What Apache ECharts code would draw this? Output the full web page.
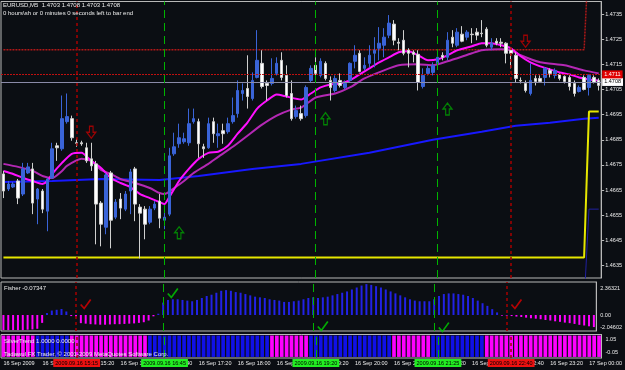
<!DOCTYPE html>
<html><head><meta charset="utf-8">
<script src="https://cdn.jsdelivr.net/npm/echarts@6/dist/echarts.min.js"></script>
<style>html,body{margin:0;padding:0;background:#0b0e13;}#c{width:625px;height:370px;}</style>
</head><body><div id="c"></div>
<script>
// ---------- categories (M5 bars from 16 Sep 2009 14:00) ----------
const categories = [];
for (let i = 0; i < 123; i++) {
  const m = 14 * 60 + 5 * i;
  const hh = String(Math.floor(m / 60) % 24).padStart(2, '0');
  const mm = String(m % 60).padStart(2, '0');
  categories.push(hh + ':' + mm);
}
const xTickLabels = ['16 Sep 2009','16 Sep 14:40','16 Sep 15:20','16 Sep 16:00','16 Sep 16:40','16 Sep 17:20','16 Sep 18:00','16 Sep 18:40','16 Sep 19:20','16 Sep 20:00','16 Sep 20:40','16 Sep 21:20','16 Sep 22:00','16 Sep 22:40','16 Sep 23:20','17 Sep 00:00'];
const priceTicks = [1.4635,1.4645,1.4655,1.4665,1.4675,1.4685,1.4695,1.4705,1.4715,1.4725,1.4735];
const fisherTickLabels = ['2.36321','0.00','-2.04602'];
const silverTickLabels = ['1.05','-0.05'];

// ---------- OHLC ----------
const opens = [1.46714,1.46654,1.46662,1.46686,1.46634,1.46718,1.46734,1.46614,1.46646,1.46566,1.46698,1.46826,1.46814,1.46922,1.46934,1.46838,1.46838,1.46818,1.46774,1.46754,1.46598,1.46502,1.46718,1.46542,1.46614,1.46574,1.46646,1.46734,1.46582,1.46574,1.46522,1.46578,1.46606,1.46530,1.46554,1.46794,1.46834,1.46842,1.46838,1.46922,1.46922,1.46822,1.46818,1.46922,1.46866,1.46886,1.46882,1.46922,1.46954,1.47034,1.47054,1.47014,1.47098,1.47154,1.47074,1.47074,1.47114,1.47166,1.47106,1.47034,1.46942,1.46954,1.46946,1.47086,1.47146,1.47106,1.47154,1.47086,1.47046,1.47086,1.47058,1.47086,1.47162,1.47194,1.47134,1.47154,1.47194,1.47214,1.47226,1.47266,1.47310,1.47238,1.47246,1.47206,1.47198,1.47190,1.47062,1.47114,1.47118,1.47154,1.47186,1.47178,1.47258,1.47226,1.47270,1.47258,1.47270,1.47278,1.47274,1.47290,1.47218,1.47242,1.47238,1.47234,1.47206,1.47186,1.47086,1.47074,1.47034,1.47094,1.47094,1.47098,1.47126,1.47106,1.47110,1.47102,1.47098,1.47074,1.47042,1.47098,1.47058,1.47098,1.47086];
const closes = [1.46646,1.46674,1.46674,1.46618,1.46734,1.46742,1.46598,1.46654,1.46574,1.46694,1.46814,1.46818,1.46934,1.46942,1.46858,1.46836,1.46834,1.46766,1.46746,1.46594,1.46514,1.46710,1.46530,1.46602,1.46578,1.46634,1.46722,1.46594,1.46558,1.46514,1.46574,1.46594,1.46538,1.46542,1.46786,1.46822,1.46858,1.46854,1.46914,1.46934,1.46834,1.46814,1.46914,1.46874,1.46874,1.46874,1.46914,1.46946,1.47046,1.47046,1.47022,1.47086,1.47166,1.47062,1.47066,1.47094,1.47154,1.47098,1.47026,1.46934,1.46966,1.46934,1.47058,1.47134,1.47114,1.47162,1.47094,1.47058,1.47094,1.47066,1.47074,1.47154,1.47186,1.47122,1.47146,1.47186,1.47206,1.47234,1.47258,1.47314,1.47246,1.47234,1.47194,1.47194,1.47190,1.47078,1.47106,1.47134,1.47146,1.47178,1.47178,1.47246,1.47234,1.47278,1.47242,1.47278,1.47268,1.47266,1.47272,1.47226,1.47234,1.47234,1.47234,1.47194,1.47194,1.47094,1.47084,1.47046,1.47086,1.47082,1.47082,1.47134,1.47114,1.47126,1.47094,1.47082,1.47062,1.47034,1.47058,1.47050,1.47106,1.47078,1.47066];
const lows = [1.46618,1.46646,1.46658,1.46594,1.46626,1.46714,1.46554,1.46514,1.46558,1.46486,1.46694,1.46766,1.46806,1.46914,1.46846,1.46822,1.46826,1.46758,1.46726,1.46434,1.46426,1.46474,1.46418,1.46534,1.46534,1.46566,1.46554,1.46526,1.46378,1.46454,1.46514,1.46570,1.46498,1.46494,1.46546,1.46786,1.46818,1.46834,1.46826,1.46914,1.46778,1.46778,1.46814,1.46838,1.46818,1.46834,1.46874,1.46914,1.46938,1.47006,1.46974,1.47006,1.47094,1.47054,1.47006,1.47066,1.47106,1.47086,1.47018,1.46926,1.46934,1.46926,1.46938,1.47078,1.47094,1.47098,1.47086,1.47006,1.47038,1.47058,1.47050,1.47078,1.47134,1.47118,1.47126,1.47138,1.47138,1.47166,1.47178,1.47254,1.47226,1.47206,1.47186,1.47138,1.47158,1.47046,1.47054,1.47106,1.47106,1.47146,1.47166,1.47166,1.47218,1.47218,1.47238,1.47246,1.47234,1.47246,1.47258,1.47218,1.47206,1.47226,1.47218,1.47154,1.47134,1.47078,1.47074,1.47038,1.47026,1.47066,1.47078,1.47066,1.47098,1.47094,1.47086,1.47074,1.47046,1.47022,1.47038,1.47046,1.47026,1.47074,1.47046];
const highs = [1.46726,1.46686,1.46682,1.46694,1.46758,1.46758,1.46758,1.46658,1.46654,1.46698,1.46838,1.46838,1.47026,1.47034,1.46946,1.46854,1.46846,1.46838,1.46838,1.46766,1.46606,1.46718,1.46726,1.46614,1.46638,1.46646,1.46734,1.46742,1.46594,1.46586,1.46586,1.46606,1.46634,1.46574,1.46818,1.46878,1.46914,1.46878,1.46974,1.46974,1.46934,1.46834,1.46938,1.46938,1.46914,1.46914,1.46938,1.47018,1.47086,1.47074,1.47186,1.47118,1.47286,1.47206,1.47086,1.47174,1.47178,1.47198,1.47146,1.47086,1.46986,1.46986,1.47066,1.47146,1.47178,1.47174,1.47162,1.47102,1.47106,1.47114,1.47086,1.47158,1.47226,1.47206,1.47178,1.47226,1.47258,1.47298,1.47294,1.47346,1.47326,1.47254,1.47286,1.47214,1.47206,1.47206,1.47134,1.47146,1.47158,1.47186,1.47198,1.47278,1.47286,1.47294,1.47302,1.47286,1.47294,1.47294,1.47326,1.47298,1.47254,1.47254,1.47254,1.47238,1.47218,1.47198,1.47098,1.47086,1.47154,1.47106,1.47106,1.47138,1.47134,1.47134,1.47114,1.47106,1.47106,1.47086,1.47066,1.47106,1.47110,1.47106,1.47094];

// ---------- overlay lines (bar index, price) ----------
const fastMA = [[0,1.46726],[2,1.46714],[4,1.46698],[6,1.46686],[8,1.46674],[9,1.46686],[10,1.46714],[12,1.46758],[14,1.46794],[16,1.46798],[18,1.46766],[20,1.46738],[22,1.46698],[24,1.46678],[26,1.46662],[28,1.46634],[30,1.46618],[32,1.46602],[33,1.46594],[34,1.46622],[36,1.46686],[38,1.46734],[40,1.46774],[42,1.46798],[44,1.46802],[46,1.46826],[48,1.46874],[50,1.46918],[52,1.46974],[54,1.47006],[56,1.47030],[58,1.47022],[61,1.47010],[63,1.47034],[65,1.47058],[67,1.47070],[69,1.47074],[71,1.47086],[73,1.47110],[75,1.47134],[77,1.47158],[79,1.47178],[81,1.47198],[83,1.47202],[85,1.47186],[87,1.47166],[89,1.47170],[91,1.47186],[93,1.47206],[96,1.47222],[98,1.47234],[100,1.47234],[102,1.47226],[104,1.47214],[106,1.47182],[108,1.47158],[110,1.47142],[112,1.47130],[114,1.47118],[116,1.47110],[118,1.47098],[120,1.47090],[122,1.47086]];
const slowMA = [[0,1.46754],[3,1.46742],[6,1.46726],[8,1.46706],[10,1.46698],[12,1.46726],[13,1.46746],[16,1.46774],[18,1.46766],[20,1.46730],[22,1.46714],[24,1.46694],[27,1.46678],[30,1.46658],[32,1.46638],[33,1.46634],[35,1.46658],[37,1.46686],[39,1.46718],[42,1.46754],[44,1.46782],[47,1.46822],[50,1.46866],[53,1.46910],[56,1.46946],[59,1.46970],[61,1.46978],[64,1.47018],[68,1.47034],[71,1.47058],[74,1.47094],[78,1.47126],[81,1.47146],[85,1.47150],[88,1.47146],[91,1.47162],[96,1.47194],[98,1.47206],[102,1.47210],[104,1.47206],[106,1.47186],[110,1.47158],[115,1.47146],[119,1.47126],[122,1.47114]];
const longMA = [[0,1.46682],[10,1.46686],[20,1.46694],[32,1.46690],[40,1.46706],[51,1.46734],[61,1.46754],[75,1.46798],[88,1.46850],[98,1.46882],[105,1.46906],[112,1.46918],[119,1.46934],[122,1.46938]];
const lowerBand = [[0,1.46382],[119,1.46382],[120,1.46962],[122,1.46962]];
const upperBand = [[0,1.47208],[119,1.47208],[120,1.4760],[122,1.4760]];
const innerBand = [[119,1.4620],[120,1.46574],[122,1.46574]];
const askPrice = 1.4711;
const bidPrice = 1.4708;

// ---------- signals ----------
const signalBars = [15, 33, 64, 89, 104];
const signalKinds = ['sell','buy','buy','buy','sell'];
const signalTimes = ['2009.09.16 15:15','2009.09.16 16:45','2009.09.16 19:20','2009.09.16 21:25','2009.09.16 22:40'];
const upArrows = [[36,1.46480],[66,1.46934],[91,1.46972]];
const downArrows = [[18,1.46880],[107,1.47242]];
const greenChecks = [[35,1.68],[66,-0.84],[91,-0.92]];
const redChecks = [[17,0.84],[106,0.84]];

// ---------- Fisher histogram ----------
const fisher = [-1.15,-1.15,-1.15,-1.15,-1.15,-1.12,-1.1,-1.05,-0.6,
 0.15,0.34,0.4,0.46,0.27,
 -0.08,-0.12,
 -0.62,-0.66,-0.7,-0.72,-0.74,-0.74,-0.72,-0.7,-0.7,-0.68,-0.66,-0.64,-0.6,-0.55,-0.42,-0.1,
 0.1,
 0.95,1.15,1.2,1.2,1.15,1.1,1.05,1.15,1.3,1.45,
 1.55,1.7,1.85,1.9,1.85,1.75,1.7,1.6,1.5,1.4,
 1.35,1.3,1.2,1.15,1.1,1.0,1.0,1.05,1.1,1.2,
 1.3,1.35,1.3,1.35,1.4,1.5,1.6,1.7,1.8,1.95,
 2.1,2.25,2.36,2.3,2.2,2.1,1.95,1.8,1.65,1.5,
 1.35,1.2,1.1,1.05,1.05,1.05,1.2,1.45,1.6,1.65,
 1.65,1.6,1.55,1.45,1.3,1.1,0.9,0.7,0.45,0.2,
 -0.05,
 -0.05,-0.08,-0.12,-0.15,-0.2,-0.25,-0.28,-0.32,-0.38,-0.42,-0.48,-0.52,-0.58,-0.62,-0.68,-0.75,-0.8,-0.86,-0.92];

// ---------- SilverTrend (1 = up/blue, 0 = down/magenta) ----------
const silverTrend = [0,0,0,0,0,0,0, 1,1,1,1,1,1,1,
 0,0,0,0,0,0,0,0,0,0,0,0,0,0,0,0,
 1,1,1,1,1,1,1,1,1,1,1,1,1,1,1,1,1,1,1,1,1,1,1,1,1,
 0,0,0,0,0,0,0,0,
 1,1,1,1,1,1,1,1,1,1,1,1,1,1,1,1,1,
 0,0,0,0,0,0,0,0,
 1,1,1,1,1,1,1,1,1,1,1,
 0,0,0,0,0,0,0,0,0,0,0,0,0,0,0,0,0,0,0,0,0,0,0,0];

const BG = '#0b0e13', FRAME = '#b8b8b8', TXT = '#ececec';
const FONT = '"Liberation Sans", Arial, sans-serif';
const GREEN = '#00b400', DRED = '#a80000';
const UP_ARROW = 'path://M3,12 L7,12 L7,6 L10,6 L5,0 L0,6 L3,6 Z';
const DOWN_ARROW = 'path://M3,0 L7,0 L7,6 L10,6 L5,12 L0,6 L3,6 Z';
const CHECK = 'path://M0,5 L3.5,9 L10,0 L3.5,9 Z';

function vLines(withLabels) {
  return signalBars.map((b, k) => {
    const buy = signalKinds[k] === 'buy';
    return {
      xAxis: b,
      lineStyle: { color: buy ? GREEN : DRED, type: buy ? [8, 5] : [3, 3], width: buy ? 1 : 1.5 },
      label: withLabels ? {
        show: true, position: 'start', distance: 1,
        formatter: signalTimes[k], color: '#000', fontSize: 5.5, fontFamily: FONT,
        backgroundColor: buy ? '#22ee22' : '#ee1111', padding: [1, 2, 1, 2]
      } : { show: false }
    };
  });
}

const chart = echarts.init(document.getElementById('c'), null, { renderer: 'canvas' });
const hidden = { show: false };
chart.setOption({
  backgroundColor: BG,
  animation: false,
  grid: [
    { left: 1, top: 1.5, width: 601, height: 276.5, show: true, borderColor: FRAME, borderWidth: 1, backgroundColor: 'transparent' },
    { left: 1, top: 282, width: 601, height: 49, show: true, borderColor: FRAME, borderWidth: 1 },
    { left: 1, top: 334.5, width: 601, height: 23.5, show: true, borderColor: FRAME, borderWidth: 1 }
  ],
  xAxis: [0, 1, 2].map(g => ({
    type: 'category', gridIndex: g, data: categories, boundaryGap: true,
    axisLine: hidden, axisTick: hidden, splitLine: hidden,
    axisLabel: g === 2 ? {
      show: true, interval: 7, align: 'left', margin: 2, color: TXT, fontSize: 5.5, fontFamily: FONT,
      formatter: (v, i) => xTickLabels[Math.round(i / 8)]
    } : hidden
  })),
  yAxis: [
    { type: 'value', gridIndex: 0, position: 'right', min: 1.463, max: 1.474, scale: true,
      axisLine: { show: true, lineStyle: { color: FRAME } },
      axisTick: { show: true, length: 3, customValues: priceTicks, lineStyle: { color: FRAME } },
      axisLabel: { show: true, customValues: priceTicks, formatter: v => v.toFixed(4), color: TXT, fontSize: 5.5, fontFamily: FONT, margin: 4 },
      splitLine: hidden },
    { type: 'value', gridIndex: 1, position: 'right', min: -1.22, max: 2.52,
      axisLine: { show: true, lineStyle: { color: FRAME } },
      axisTick: hidden,
      axisLabel: { show: true, customValues: [2.05, 0, -0.95], formatter: v => v > 1 ? fisherTickLabels[0] : (v < 0 ? fisherTickLabels[2] : fisherTickLabels[1]), color: TXT, fontSize: 5.5, fontFamily: FONT, margin: 4 },
      splitLine: hidden },
    { type: 'value', gridIndex: 2, position: 'right', min: -0.05, max: 1.05,
      axisLine: { show: true, lineStyle: { color: FRAME } },
      axisTick: hidden,
      axisLabel: { show: true, customValues: [0.8, 0.2], formatter: v => v > 0.5 ? silverTickLabels[0] : silverTickLabels[1], color: TXT, fontSize: 5.5, fontFamily: FONT, margin: 4 },
      splitLine: hidden }
  ],
  series: [
    { type: 'line', xAxisIndex: 0, yAxisIndex: 0, data: longMA, showSymbol: false, lineStyle: { color: '#1818ff', width: 2 }, z: 2 },
    { type: 'line', xAxisIndex: 0, yAxisIndex: 0, data: lowerBand, showSymbol: false, lineStyle: { color: '#e6e600', width: 2 }, z: 2 },
    { type: 'line', xAxisIndex: 0, yAxisIndex: 0, data: upperBand, showSymbol: false, lineStyle: { color: '#b01818', width: 1.5, type: [2, 1] }, z: 2 },
    { type: 'line', xAxisIndex: 0, yAxisIndex: 0, data: innerBand, showSymbol: false, lineStyle: { color: '#2020a0', width: 1 }, z: 2 },
    { type: 'line', xAxisIndex: 0, yAxisIndex: 0, data: slowMA, showSymbol: false, smooth: 0.2, lineStyle: { color: '#b428b4', width: 2 }, z: 3 },
    { type: 'line', xAxisIndex: 0, yAxisIndex: 0, data: fastMA, showSymbol: false, smooth: 0.2, lineStyle: { color: '#ff10ff', width: 2 }, z: 3,
      markLine: { silent: true, precision: 6, symbol: ['none', 'none'], animation: false, data: [
        { yAxis: bidPrice, lineStyle: { color: '#8a8aa8', type: 'solid', width: 1 },
          label: { show: true, position: 'end', distance: 1, formatter: bidPrice.toFixed(4), color: '#000', backgroundColor: '#ffffff', fontSize: 5.5, fontFamily: FONT, padding: [1, 2] } },
        { yAxis: askPrice, lineStyle: { color: '#c01010', type: [2, 1], width: 1 },
          label: { show: true, position: 'end', distance: 1, formatter: askPrice.toFixed(4), color: '#fff', backgroundColor: '#e00000', fontSize: 5.5, fontFamily: FONT, padding: [1, 2] } }
      ] } },
    { type: 'candlestick', xAxisIndex: 0, yAxisIndex: 0, barWidth: 3, z: 4,
      data: categories.map((c, i) => [opens[i], closes[i], lows[i], highs[i]]),
      itemStyle: { color: '#3a64d8', color0: '#ffffff', borderColor: '#3a64d8', borderColor0: '#cfcfcf', borderWidth: 1 },
      markLine: { silent: true, symbol: ['none', 'none'], animation: false, data: vLines(false) } },
    { type: 'scatter', xAxisIndex: 0, yAxisIndex: 0, data: upArrows, symbol: UP_ARROW, symbolSize: [9, 12], z: 5,
      itemStyle: { color: 'rgba(0,0,0,0)', borderColor: '#00a000', borderWidth: 1.3 } },
    { type: 'scatter', xAxisIndex: 0, yAxisIndex: 0, data: downArrows, symbol: DOWN_ARROW, symbolSize: [9, 12], z: 5,
      itemStyle: { color: 'rgba(0,0,0,0)', borderColor: '#c00000', borderWidth: 1.3 } },
    { type: 'bar', xAxisIndex: 1, yAxisIndex: 1, barWidth: 2, z: 2,
      data: fisher.map(v => ({ value: v, itemStyle: { color: v >= 0 ? '#2222e6' : '#ff00ff' } })),
      markLine: { silent: true, symbol: ['none', 'none'], animation: false, data: vLines(false) } },
    { type: 'scatter', xAxisIndex: 1, yAxisIndex: 1, data: greenChecks, symbol: CHECK, symbolSize: [10, 9], z: 5,
      itemStyle: { color: '#00d000', borderColor: '#00d000', borderWidth: 1.6 } },
    { type: 'scatter', xAxisIndex: 1, yAxisIndex: 1, data: redChecks, symbol: CHECK, symbolSize: [10, 9], z: 5,
      itemStyle: { color: '#e00000', borderColor: '#e00000', borderWidth: 1.6 } },
    { type: 'bar', xAxisIndex: 2, yAxisIndex: 2, barCategoryGap: '25%', z: 2,
      data: silverTrend.map(s => ({ value: 1, itemStyle: { color: s ? '#1010e8' : '#ff00ff' } })),
      markLine: { silent: true, symbol: ['none', 'none'], animation: false, data: vLines(true) } }
  ],
  graphic: [
    { type: 'text', left: 3, top: 2, z: 100, style: { text: 'EURUSD,M5  1.4703 1.4708 1.4703 1.4708', fill: TXT, font: '6px ' + FONT } },
    { type: 'text', left: 3, top: 10, z: 100, style: { text: '0 hours\\sh or 0 minutes 0 seconds left to bar end', fill: TXT, font: '6px ' + FONT } },
    { type: 'text', left: 4, top: 285, z: 100, style: { text: 'Fisher -0.07347', fill: TXT, font: '6px ' + FONT } },
    { type: 'text', left: 4, top: 338, z: 100, style: { text: 'SilverTrend 1.0000 0.0000', fill: TXT, font: '6px ' + FONT } },
    { type: 'text', left: 4, top: 351, z: 100, style: { text: 'Tadawul FX Trader, \u00A9 2001-2009 MetaQuotes Software Corp.', fill: TXT, font: '6px ' + FONT } }
  ]
});
</script>
</body></html>
